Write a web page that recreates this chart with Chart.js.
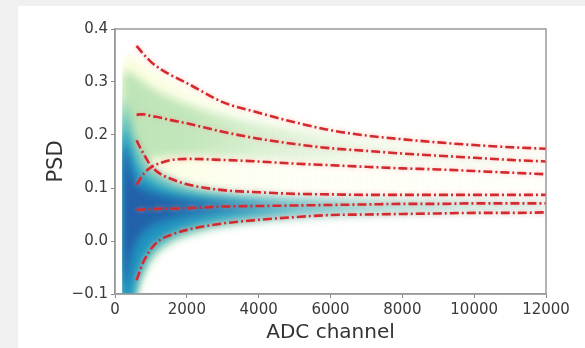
<!DOCTYPE html>
<html>
<head>
<meta charset="utf-8">
<script src="https://cdn.jsdelivr.net/npm/chart.js@4.4.1/dist/chart.umd.min.js"></script>
<style>
  html, body { margin: 0; padding: 0; background: #f0f0f0; width: 585px; height: 348px; overflow: hidden; }
  #panel { position: absolute; left: 18px; top: 6px; right: 0; bottom: 0; background: #fff; }
  #psd { position: absolute; left: 0; top: 0; }
</style>
</head>
<body>
<div id="panel"></div>
<canvas id="psd" width="585" height="348"></canvas>
<script>
// ticks
const xTicks = [0, 2000, 4000, 6000, 8000, 10000, 12000];
const yTicks = [-0.1, 0.0, 0.1, 0.2, 0.3, 0.4];

// red dash-dot cut lines (ADC channel -> PSD)
const curveAdc = [600, 700, 800, 900, 1000, 1250, 1500, 2000, 3000, 4000, 5000, 6000, 7000, 8000, 9000, 10000, 11000, 12000];
const neutronHigh = [0.368, 0.360, 0.352, 0.345, 0.338, 0.325, 0.315, 0.298, 0.262, 0.242, 0.224, 0.209, 0.199, 0.192, 0.186, 0.181, 0.177, 0.174];
const neutronMean = [0.238, 0.239, 0.239, 0.238, 0.236, 0.233, 0.229, 0.222, 0.206, 0.193, 0.183, 0.175, 0.170, 0.165, 0.161, 0.157, 0.153, 0.150];
const neutronLow  = [0.106, 0.117, 0.127, 0.134, 0.139, 0.147, 0.152, 0.155, 0.153, 0.150, 0.146, 0.143, 0.140, 0.137, 0.135, 0.132, 0.129, 0.126];
const gammaHigh   = [0.190, 0.176, 0.164, 0.152, 0.142, 0.127, 0.119, 0.107, 0.096, 0.092, 0.089, 0.088, 0.087, 0.087, 0.087, 0.087, 0.087, 0.087];
const gammaMean   = [0.059, 0.059, 0.060, 0.060, 0.060, 0.061, 0.061, 0.062, 0.065, 0.066, 0.067, 0.068, 0.069, 0.070, 0.070, 0.071, 0.071, 0.071];
const gammaLow    = [-0.074, -0.055, -0.038, -0.026, -0.015, 0.002, 0.010, 0.021, 0.033, 0.040, 0.045, 0.049, 0.050, 0.051, 0.052, 0.053, 0.053, 0.054];

// density map, drawn as nested contour bands (upper / lower edge of each shade)
const heatAdc = [200, 300, 400, 500, 600, 800, 1000, 1500, 2000, 3000, 4000, 5000, 6000, 8000, 10000, 12000];
const creamTop    = [0.33, 0.345, 0.35, 0.35, 0.345, 0.335, 0.325, 0.305, 0.29, 0.265, 0.245, 0.23, 0.215, 0.20, 0.19, 0.18];
const creamBottom = [-0.13, -0.13, -0.13, -0.12, -0.11, -0.075, -0.045, -0.012, 0.005, 0.022, 0.031, 0.037, 0.041, 0.046, 0.049, 0.051];
const greenTop    = [0.31, 0.32, 0.32, 0.315, 0.31, 0.30, 0.29, 0.272, 0.258, 0.237, 0.222, 0.21, 0.20, 0.187, 0.178, 0.17];
const greenBottom = [0.12, 0.125, 0.13, 0.135, 0.14, 0.148, 0.155, 0.16, 0.162, 0.16, 0.157, 0.153, 0.15, 0.145, 0.14, 0.135];
const aquaTop     = [0.27, 0.26, 0.24, 0.21, 0.185, 0.16, 0.142, 0.12, 0.106, 0.094, 0.088, 0.085, 0.083, 0.08, 0.079, 0.078];
const aquaBottom  = [-0.13, -0.13, -0.13, -0.12, -0.09, -0.06, -0.035, -0.005, 0.01, 0.027, 0.036, 0.041, 0.045, 0.05, 0.053, 0.055];
const tealTop     = [0.24, 0.23, 0.20, 0.175, 0.155, 0.135, 0.122, 0.105, 0.095, 0.086, 0.082, 0.079, 0.077, 0.075, 0.074, 0.074];
const tealBottom  = [-0.13, -0.13, -0.13, -0.11, -0.08, -0.045, -0.022, 0.005, 0.02, 0.035, 0.042, 0.047, 0.05, 0.054, 0.057, 0.059];
const blueTop     = [0.21, 0.20, 0.175, 0.15, 0.133, 0.118, 0.108, 0.094, 0.087, 0.08, 0.076, 0.074, 0.073, 0.072, 0.071, 0.07];
const blueBottom  = [-0.13, -0.13, -0.12, -0.095, -0.065, -0.03, -0.01, 0.015, 0.028, 0.041, 0.048, 0.052, 0.055, 0.058, 0.06, 0.061];
const navyTop     = [0.18, 0.17, 0.145, 0.12, 0.105, 0.097, 0.092, 0.084, 0.08, 0.076, 0.073, 0.071, 0.07, 0.069, 0.068, 0.068];
const navyBottom  = [-0.1, -0.075, -0.04, -0.015, 0.0, 0.018, 0.028, 0.04, 0.047, 0.054, 0.058, 0.06, 0.062, 0.063, 0.064, 0.064];

const pts = (xs, ys) => xs.map((x, i) => ({ x: x, y: ys[i] }));

// horizontal fade of a shade along the ADC axis
function fade(rgb, stops) {
  return (ctx) => {
    const chart = ctx.chart;
    const xs = chart.scales.x;
    if (!chart.chartArea || !xs) return "rgba(" + rgb + ",0.6)";
    const g = chart.ctx.createLinearGradient(xs.getPixelForValue(0), 0, xs.getPixelForValue(12000), 0);
    stops.forEach(s => g.addColorStop(s[0] / 12000, "rgba(" + rgb + "," + s[1] + ")"));
    return g;
  };
}

const layers = [
  { rgb: "251,253,220", top: creamTop, bottom: creamBottom, stops: [[0, 1], [1500, 0.75], [4000, 0.3], [12000, 0.12]] },
  { rgb: "188,228,182", top: greenTop, bottom: greenBottom, stops: [[0, 1], [2000, 0.9], [4000, 0.55], [7000, 0.2], [12000, 0.06]] },
  { rgb: "127,205,187", top: aquaTop, bottom: aquaBottom, stops: [[0, 1], [2000, 0.85], [5000, 0.45], [12000, 0.2]] },
  { rgb: "65,182,196", top: tealTop, bottom: tealBottom, stops: [[0, 1], [2000, 0.8], [5000, 0.35], [10000, 0.08], [12000, 0.04]] },
  { rgb: "29,145,192", top: blueTop, bottom: blueBottom, stops: [[0, 1], [1500, 0.9], [3000, 0.6], [7000, 0], [12000, 0]] },
  { rgb: "34,94,168", top: navyTop, bottom: navyBottom, stops: [[0, 1], [1500, 0.85], [3000, 0.4], [4500, 0], [12000, 0]] }
];

const datasets = [];
layers.forEach((l, i) => {
  const order = 20 - i;
  datasets.push({
    heat: true, data: pts(heatAdc, l.top), fill: "+1", backgroundColor: fade(l.rgb, l.stops),
    borderColor: "rgba(0,0,0,0)", borderWidth: 0, pointRadius: 0, cubicInterpolationMode: "monotone", order: order
  });
  datasets.push({
    heat: true, data: pts(heatAdc, l.bottom), fill: false,
    borderColor: "rgba(0,0,0,0)", borderWidth: 0, pointRadius: 0, cubicInterpolationMode: "monotone", order: order
  });
});

[neutronHigh, neutronMean, neutronLow, gammaHigh, gammaMean, gammaLow].forEach(c => {
  datasets.push({
    data: pts(curveAdc, c), fill: false, borderColor: "#d42a2e", borderWidth: 2.6,
    borderDash: [9, 3, 2, 3], pointRadius: 0, cubicInterpolationMode: "monotone", order: 0
  });
});

// soft edges for the density shades, pink glow on the cut lines
const soften = {
  id: "soften",
  beforeDatasetsDraw(chart) {
    chart.ctx.filter = "blur(4px)";
  },
  beforeDatasetDraw(chart, args) {
    const c = chart.ctx;
    if (chart.data.datasets[args.index].heat) return;
    c.filter = "none";
    c.shadowColor = "rgba(255,140,150,0.55)";
    c.shadowBlur = 4;
  },
  afterDatasetsDraw(chart) {
    const c = chart.ctx;
    c.filter = "none";
    c.shadowColor = "rgba(0,0,0,0)";
    c.shadowBlur = 0;
  }
};

// matplotlib-like box around the axes
const frame = {
  id: "frame",
  afterDatasetsDraw(chart) {
    const a = chart.chartArea, c = chart.ctx;
    c.save();
    c.strokeStyle = "#9a9a9a";
    c.lineWidth = 1.5;
    c.strokeRect(a.left, a.top, a.right - a.left, a.bottom - a.top);
    c.restore();
  }
};

const font = "'DejaVu Sans', sans-serif";

new Chart(document.getElementById("psd"), {
  type: "line",
  data: { datasets: datasets },
  plugins: [soften, frame],
  options: {
    responsive: false,
    animation: false,
    events: [],
    layout: { padding: { left: 0, top: 29, right: 39, bottom: 0 } },
    plugins: { legend: { display: false }, tooltip: { enabled: false } },
    scales: {
      x: {
        type: "linear", min: 0, max: 12000,
        afterBuildTicks: s => { s.ticks = xTicks.map(v => ({ value: v })); },
        afterFit: s => { s.height = 54; },
        grid: { drawOnChartArea: false, tickLength: 4, color: "#888" },
        border: { color: "#9a9a9a", width: 1.5 },
        ticks: { padding: 3, maxRotation: 0, color: "#3a3a3a", font: { family: font, size: 15 },
          callback: v => String(v) },
        title: { display: true, text: "ADC channel", color: "#333", font: { family: font, size: 20 }, padding: { top: 0, bottom: 3 } }
      },
      y: {
        type: "linear", min: -0.1, max: 0.4,
        afterBuildTicks: s => { s.ticks = yTicks.map(v => ({ value: v })); },
        afterFit: s => { s.width = 115; },
        grid: { drawOnChartArea: false, tickLength: 4, color: "#888" },
        border: { color: "#9a9a9a", width: 1.5 },
        ticks: { padding: 3, color: "#3a3a3a", font: { family: font, size: 15 },
          callback: v => (Math.abs(v) < 1e-9 ? "0.0" : v.toFixed(1).replace("-", "\u2212")) },
        title: { display: true, text: "PSD", color: "#333", font: { family: font, size: 21 }, padding: { top: 44, bottom: 0 } }
      }
    }
  }
});
</script>
</body>
</html>
